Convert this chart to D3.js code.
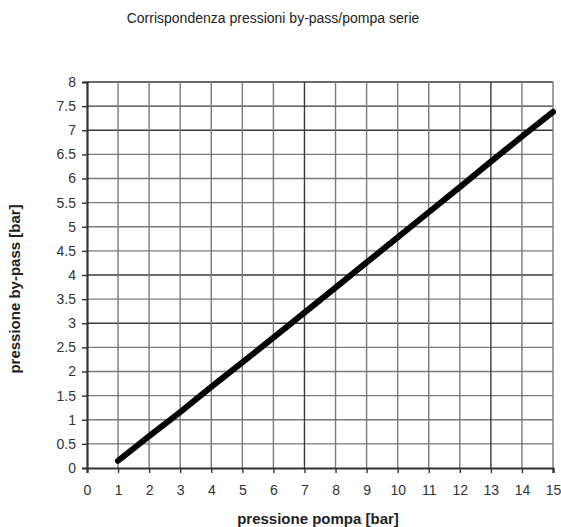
<!DOCTYPE html>
<html><head><meta charset="utf-8">
<script src="https://cdn.jsdelivr.net/npm/d3@7"></script>
<style>body{margin:0;background:#fff}svg{display:block}</style>
</head><body>
<svg id="c" width="561" height="527"></svg>
<script>
const pompa = [1,2,3,4,5,6,7,8,9,10,11,12,13,14,15];
const bypass = [0.15,0.66,1.16,1.68,2.19,2.7,3.22,3.74,4.26,4.78,5.3,5.82,6.35,6.87,7.38];
const xTicks = d3.range(0,16,1);
const yTicks = d3.range(0,8.5,0.5);
const darkY = [3,4,7,7.5,8];
const darkX = [7,13];

const svg = d3.select('#c');
const m = {l:87,r:8,t:82,b:59};
const W = 561, H = 527;
const x = d3.scaleLinear().domain([0,15]).range([m.l, W-m.r]);
const y = d3.scaleLinear().domain([0,8]).range([H-m.b, m.t]);
const font = "'Liberation Sans', Arial, sans-serif";

svg.append('text').attr('x',273).attr('y',23).attr('text-anchor','middle')
  .style('font-family',font).style('font-size','14px').attr('fill','#222')
  .text('Corrispondenza pressioni by-pass/pompa serie');

const g = svg.append('g');
g.selectAll('.hy').data(yTicks.filter(d=>d>0)).enter().append('line')
  .attr('x1',x(0)).attr('x2',x(15)).attr('y1',d=>y(d)).attr('y2',d=>y(d))
  .attr('stroke',d=>darkY.includes(d)?'#3a3a3a':'#7a7a7a').attr('stroke-width',1.4);
g.selectAll('.vx').data(xTicks.filter(d=>d>0)).enter().append('line')
  .attr('y1',y(0)).attr('y2',y(8)).attr('x1',d=>x(d)).attr('x2',d=>x(d))
  .attr('stroke',d=>darkX.includes(d)?'#3a3a3a':'#7a7a7a').attr('stroke-width',1.4);

const xa = svg.append('g').attr('transform',`translate(0,${y(0)})`)
  .call(d3.axisBottom(x).tickValues(xTicks).tickSize(5).tickPadding(12).tickFormat(d3.format('d')));
const ya = svg.append('g').attr('transform',`translate(${x(0)},0)`)
  .call(d3.axisLeft(y).tickValues(yTicks).tickSize(5).tickPadding(6).tickFormat(d=>String(d)));
[xa,ya].forEach(a=>{
  a.select('.domain').attr('stroke','#333').attr('stroke-width',2.2);
  a.selectAll('.tick line').attr('stroke','#333').attr('stroke-width',1.4);
  a.selectAll('.tick text').style('font-family',font).style('font-size','14px').attr('fill','#333');
});

const line = d3.line().x((d,i)=>x(pompa[i])).y(d=>y(d));
svg.append('path').datum(bypass).attr('d',line).attr('fill','none')
  .attr('stroke','#000').attr('stroke-width',6).attr('stroke-linecap','round');

svg.append('text').attr('x',x(7.5)-2).attr('y',H-3).attr('text-anchor','middle')
  .style('font-family',font).style('font-size','15px').style('font-weight','bold').attr('fill','#222')
  .text('pressione pompa [bar]');
svg.append('text').attr('transform',`translate(20,${y(4)+14}) rotate(-90)`).attr('text-anchor','middle')
  .style('font-family',font).style('font-size','15px').style('font-weight','bold').attr('fill','#222')
  .text('pressione by-pass [bar]');
</script>
</body></html>
